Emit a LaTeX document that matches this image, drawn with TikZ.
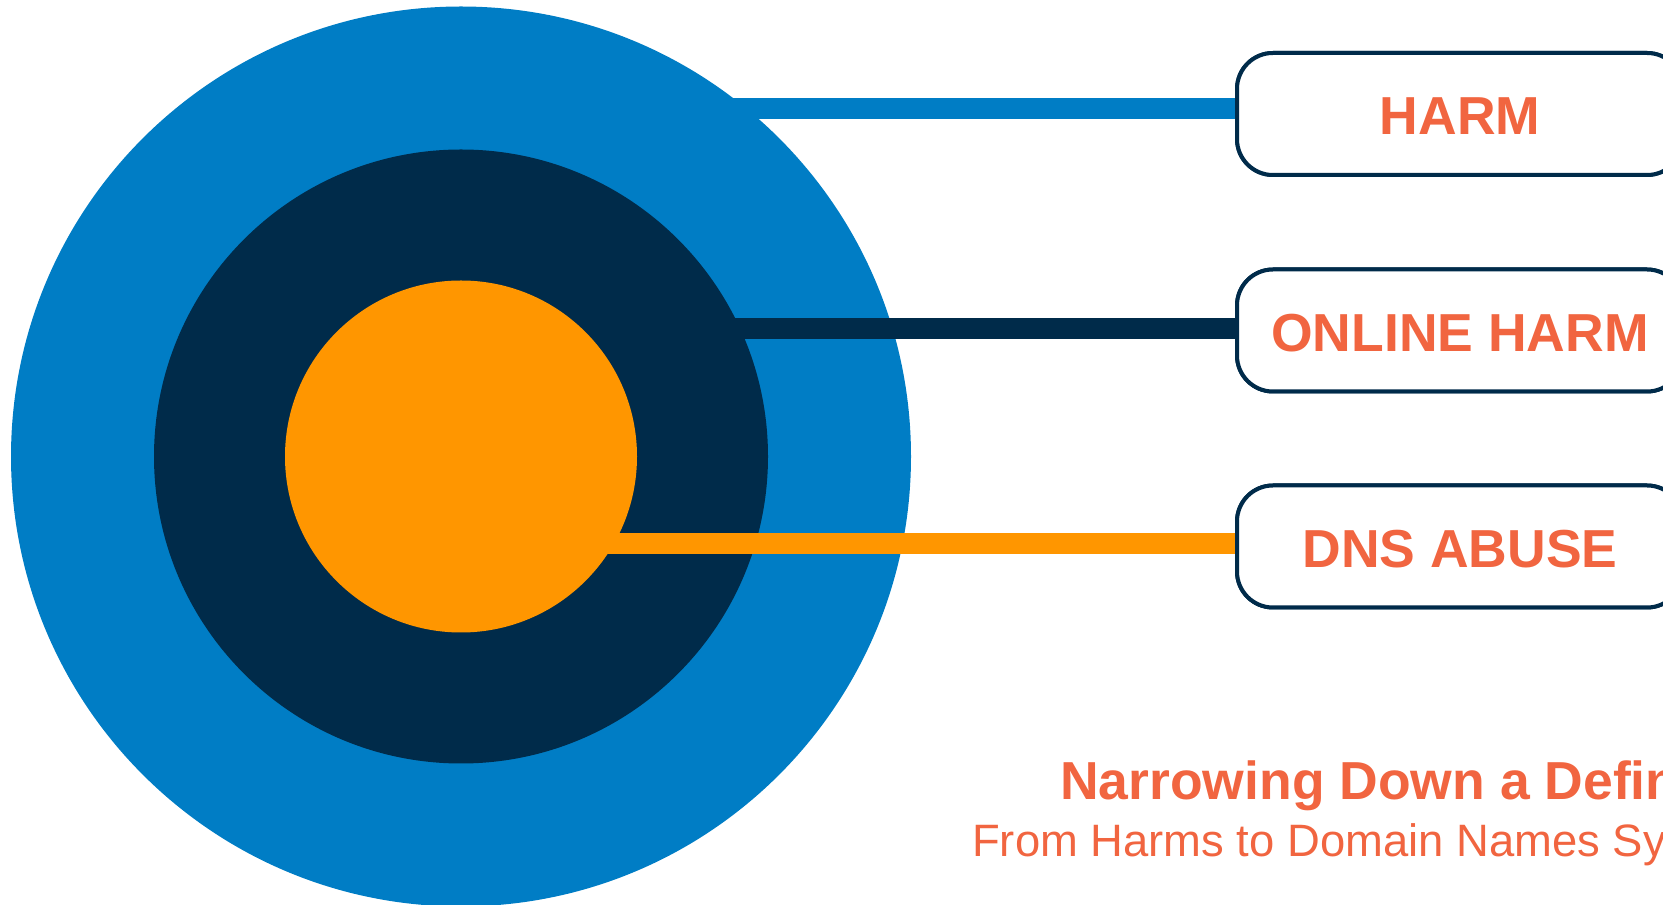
\documentclass[tikz,border=0pt]{standalone}
\usepackage{fontspec}
\setmainfont{Liberation Sans}
\definecolor{cblue}{RGB}{0,125,197}
\definecolor{cnavy}{RGB}{0,43,74}
\definecolor{corange}{RGB}{255,150,0}
\definecolor{ctext}{RGB}{241,101,64}
\tikzset{
  disc/.style={circle, draw=none, inner sep=0pt, minimum size=#1},
  link/.style={draw=#1, line width=21pt},
  labelbox/.style={draw=cnavy, line width=4pt, fill=white, rounded corners=36pt,
    minimum width=446pt, minimum height=122pt, inner sep=0pt,
    text=ctext, font=\fontsize{53.5}{60}\selectfont\bfseries,
    text height=42pt, text depth=0pt},
  titletext/.style={text=ctext, inner sep=0pt, anchor=base west}
}
\begin{document}
\begin{tikzpicture}[x=1pt,y=1pt]
\useasboundingbox (0,0) rectangle (1663,905);
\clip (0,0) rectangle (1663,905);
% circles and connectors
\node[disc=900pt, fill=cblue] (outer) at (461,448.5) {};
\node[labelbox] (harm) at (1460,791) {HARM};
\node[labelbox] (online) at (1460,574.5) {ONLINE HARM};
\node[labelbox] (dns) at (1460,358.5) {DNS ABUSE};
\draw[link=cblue] ([yshift=5pt]harm.west) -- ([yshift=5pt]harm.west -| outer.center);
\node[disc=614pt, fill=cnavy] (middle) at (outer.center) {};
\draw[link=cnavy] ([yshift=1.5pt]online.west) -- ([yshift=1.5pt]online.west -| middle.center);
\node[disc=352pt, fill=corange] (inner) at (outer.center) {};
\draw[link=corange] ([yshift=3pt]dns.west) -- ([yshift=3pt]dns.west -| inner.center);
% boxes on top of the connector ends
\node[labelbox] at (harm.center) {HARM};
\node[labelbox] at (online.center) {ONLINE HARM};
\node[labelbox] at (dns.center) {DNS ABUSE};
% title
\node[titletext, font=\fontsize{53.5}{60}\selectfont\bfseries] (title) at (1060,105) {Narrowing Down a Definition};
\node[titletext, font=\fontsize{45.4}{50}\selectfont] (subtitle) at (972,48.3) {From Harms to Domain Names System};
\end{tikzpicture}
\end{document}
